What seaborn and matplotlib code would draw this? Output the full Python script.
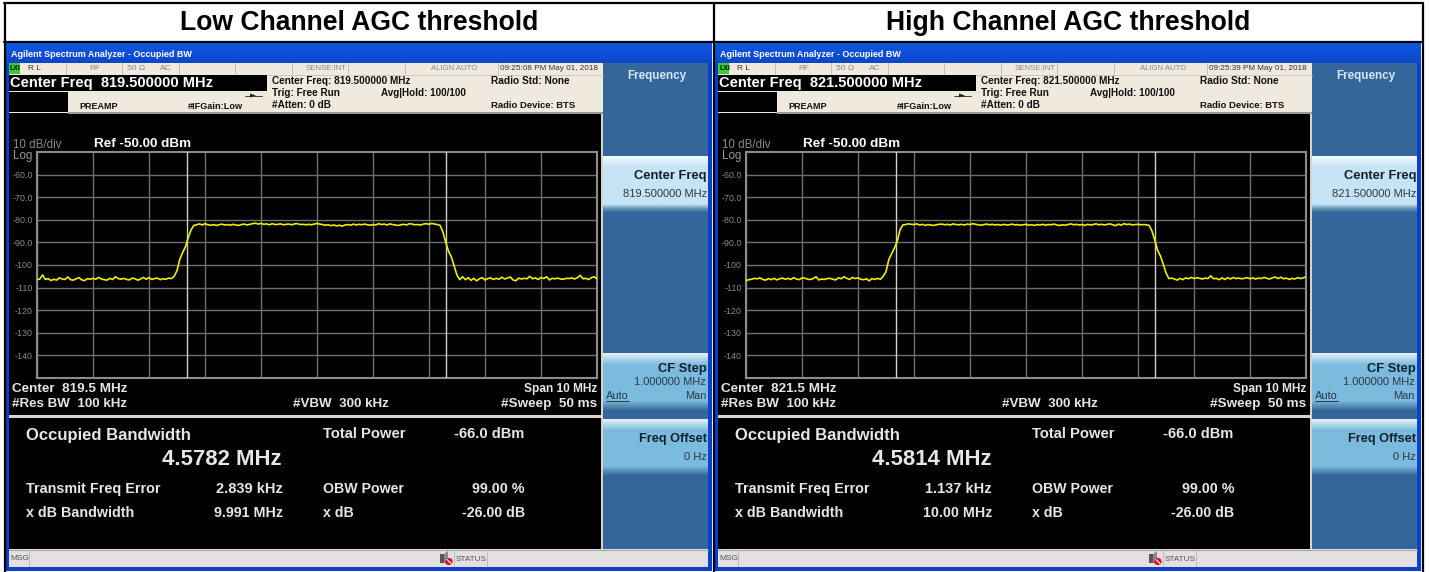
import numpy as np
import seaborn as sns
import matplotlib
matplotlib.use("Agg")
import matplotlib.pyplot as plt
from matplotlib.colors import LinearSegmentedColormap
from matplotlib.patches import Rectangle, Circle, Polygon
from matplotlib.ticker import MultipleLocator

W, H = 1431, 572

titles = ["Low Channel AGC threshold", "High Channel AGC threshold"]
center_freq = ["819.500000 MHz", "821.500000 MHz"]
center_short = ["819.5 MHz", "821.5 MHz"]
timestamps = ["09:25:08 PM May 01, 2018", "09:25:39 PM May 01, 2018"]
occupied_bw = ["4.5782 MHz", "4.5814 MHz"]
freq_error = ["2.839 kHz", "1.137 kHz"]
xdb_bw = ["9.991 MHz", "10.00 MHz"]

# marker lines, MHz from centre
low_markers = [-2.32, 2.31]
high_markers = [-2.32, 2.30]
y_ticks = [-60, -70, -80, -90, -100, -110, -120, -130, -140]
y_tick_labels = ["-60.0", "-70.0", "-80.0", "-90.0", "-100", "-110", "-120", "-130", "-140"]

# traces in dBm, one value every 0.05 MHz
low_floor_left = [
    -106.5, -106.2, -104.4, -106.4, -106.0, -106.9, -106.3, -106.7, -105.7, -106.2,
    -106.4, -105.3, -106.5, -106.7, -106.1, -105.6, -106.6, -106.9, -106.0, -106.3,
    -105.9, -106.3, -105.5, -106.2, -106.5, -106.7, -105.9, -106.4, -105.2, -106.0,
    -106.3, -105.9, -106.4, -106.6, -105.8, -106.1, -106.7, -106.2, -105.5, -106.3,
    -105.6, -106.4, -106.0, -105.8, -106.5, -106.1, -106.3, -105.8, -106.0]
low_rise = [-105.0, -102.5, -97.5, -94.5, -92.0, -88.0, -84.5, -82.5]
low_top = [
    -82.2, -81.8, -82.3, -81.7, -82.2, -82.4, -82.1, -82.5, -82.2, -81.9,
    -82.3, -82.1, -82.4, -82.0, -82.3, -82.5, -82.1, -81.9, -82.3, -82.0,
    -81.7, -81.5, -81.9, -81.6, -82.0, -81.8, -82.2, -81.7, -82.1, -82.0,
    -81.8, -82.2, -82.0, -81.9, -82.2, -81.8, -81.7, -82.1, -82.0, -82.2,
    -82.0, -82.2, -81.9, -81.6, -81.9, -82.1, -82.4, -82.2, -82.6, -82.3,
    -82.7, -82.4, -82.8, -82.3, -82.1, -82.4, -81.9, -82.3, -82.0, -82.2,
    -81.9, -82.2, -82.4, -82.1, -82.3, -81.7, -82.1, -81.9, -82.3, -81.8,
    -82.1, -82.3, -82.5, -82.2, -82.0, -82.3, -81.7, -81.9, -82.2, -82.1,
    -82.3, -81.9, -81.7, -82.0, -81.6, -81.9, -82.1]
low_fall = [-82.5, -85.5, -90.0, -94.0, -96.5, -100.5, -104.5, -106.5]
low_floor_right = [
    -105.2, -106.5, -105.6, -106.8, -105.9, -107.0, -106.1, -105.6, -106.6, -106.0,
    -105.7, -106.4, -105.9, -106.3, -105.4, -106.2, -105.8, -105.3, -106.6, -107.0,
    -105.8, -106.2, -105.9, -106.1, -105.0, -106.1, -105.7, -106.4, -105.5, -106.0,
    -105.2, -106.6, -105.9, -106.1, -105.8, -106.2, -106.3, -105.9, -106.0, -105.7,
    -106.2, -105.6, -104.6, -106.1, -105.9, -106.4, -105.6, -105.2, -106.2]
high_floor_left = [
    -106.9, -106.5, -106.3, -105.9, -106.1, -105.7, -106.4, -106.7, -106.0, -106.5,
    -105.9, -106.6, -106.1, -105.8, -106.3, -105.9, -106.4, -105.6, -106.2, -106.5,
    -105.7, -105.8, -106.3, -106.4, -106.0, -105.2, -106.6, -106.2, -106.4, -106.0,
    -105.9, -106.3, -106.6, -105.7, -106.1, -105.2, -105.9, -106.4, -105.5, -106.0,
    -105.7, -106.3, -106.5, -106.1, -107.0, -106.0, -106.4, -105.9, -106.3]
high_rise = [-105.0, -103.0, -97.6, -95.0, -92.5, -89.5, -84.5, -82.3]
high_top = [
    -82.1, -81.8, -82.0, -82.1, -81.8, -82.3, -82.0, -82.5, -82.1, -82.3,
    -82.5, -82.2, -82.0, -81.9, -82.2, -82.0, -82.3, -81.8, -82.1, -82.2,
    -82.0, -82.3, -81.9, -82.1, -81.7, -82.0, -82.2, -82.4, -82.1, -81.9,
    -82.2, -82.0, -82.3, -82.1, -82.4, -82.0, -82.3, -82.2, -81.9, -82.3,
    -82.1, -82.4, -82.2, -82.0, -82.4, -82.2, -82.5, -82.1, -82.3, -82.0,
    -82.4, -82.1, -82.2, -81.9, -82.3, -82.5, -82.2, -82.4, -82.1, -81.8,
    -82.2, -82.0, -82.3, -82.1, -82.5, -82.0, -82.3, -82.1, -81.8, -82.2,
    -82.0, -82.3, -82.0, -81.8, -82.2, -82.6, -81.9, -82.4, -81.7, -82.1,
    -81.9, -82.3, -82.1, -82.0, -82.2, -82.1, -82.2]
high_fall = [-82.5, -85.0, -89.0, -93.5, -96.0, -99.5, -103.5, -106.0]
high_floor_right = [
    -105.8, -106.2, -106.7, -105.9, -106.5, -105.7, -106.1, -105.5, -106.0, -105.6,
    -105.9, -106.2, -105.8, -106.0, -104.8, -106.1, -105.9, -106.5, -105.7, -106.4,
    -105.6, -106.2, -105.5, -106.0, -105.8, -106.1, -105.9, -105.6, -106.1, -105.7,
    -106.2, -105.8, -106.0, -105.5, -105.9, -106.2, -105.7, -105.3, -106.0, -105.4,
    -106.1, -105.8, -106.4, -105.9, -106.2, -105.6, -106.0, -105.7, -105.2]

low_trace = low_floor_left + low_rise + low_top + low_fall + low_floor_right
high_trace = high_floor_left + high_rise + high_top + high_fall + high_floor_right

sns.set_theme(style="dark")
plt.rcParams["font.family"] = ["Liberation Sans", "DejaVu Sans"]

BEIGE = "#efe9de"
PANEL = "#34659b"
GRID = "#6f6f6f"
KEY_BOLD = "#10202c"
KEY_TEXT = "#2a3a46"
LIGHT = "#e6e6e6"

fig = plt.figure(figsize=(W / 100, H / 100), dpi=100, facecolor="white")
# whole figure in pixels for the instrument screen around the plots
bg = fig.add_axes([0, 0, 1, 1], zorder=1)
bg.set_xlim(0, W)
bg.set_ylim(H, 0)
bg.axis("off")


def rect(x0, y0, x1, y1, color, z=1):
    bg.add_patch(Rectangle((x0, y0), x1 - x0, y1 - y0, fc=color, ec="none", zorder=z))


def grad(x0, y0, x1, y1, colors, z=2):
    cmap = LinearSegmentedColormap.from_list("g", colors)
    bg.imshow(np.linspace(0, 1, 128)[:, None], cmap=cmap, extent=(x0, x1, y1, y0),
              aspect="auto", zorder=z, interpolation="bilinear")


def txt(x, y, s, size=6.3, color="black", weight="normal", ha="left"):
    # va=center sits a little high against the reference
    bg.text(x, y + 0.8, s, fontsize=size, color=color, fontweight=weight, ha=ha, va="center", zorder=5)


def draw_panel(i, dx, levels, markers):
    # window frame and title bar
    rect(6 + dx, 43, 712 + dx, 571, "#0a3fd0")
    grad(6 + dx, 43, 712 + dx, 63, ["#0a58e0", "#0f4fd8", "#0a46c8"])
    txt(11 + dx, 53.5, "Agilent Spectrum Analyzer - Occupied BW", 6.5, "white", "bold")

    # settings strip
    rect(9 + dx, 63, 603 + dx, 113, BEIGE, 2)
    rect(9 + dx, 63, 20 + dx, 73.5, "#35d030", 3)
    txt(10 + dx, 68, "LXI", 5.0, "black", "bold")
    txt(28 + dx, 67.5, "R L", 6.0, "#333333")
    txt(89 + dx, 67.5, "RF", 6.0, "#888888")
    txt(127 + dx, 67.5, "50 Ω", 6.0, "#888888")
    txt(160 + dx, 67.5, "AC", 6.0, "#888888")
    txt(306 + dx, 67.5, "SENSE:INT", 5.6, "#888888")
    txt(431 + dx, 67.5, "ALIGN AUTO", 5.6, "#888888")
    txt(598 + dx, 67.5, timestamps[i], 5.9, "#333333", ha="right")
    for sx in (66, 122, 179, 235, 292, 348, 405, 498):
        bg.plot([sx + dx, sx + dx], [63, 74], color="#b8b8b8", lw=0.6, zorder=3)
    bg.plot([9 + dx, 603 + dx], [74.5, 74.5], color="#c8c4bc", lw=0.6, zorder=3)

    rect(9 + dx, 75, 267 + dx, 91, "black", 3)
    rect(9 + dx, 92, 68 + dx, 112, "black", 3)
    rect(68 + dx, 111.5, 603 + dx, 113.5, "#9a9a94", 3)
    txt(10 + dx, 82.5, "Center Freq  " + center_freq[i], 10.5, "white", "bold")
    txt(272 + dx, 80.5, "Center Freq: " + center_freq[i], 7.2, "#111111", "bold")
    txt(272 + dx, 92, "Trig: Free Run", 7.2, "#111111", "bold")
    txt(381 + dx, 92, "Avg|Hold: 100/100", 7.1, "#111111", "bold")
    txt(272 + dx, 104.5, "#Atten: 0 dB", 7.2, "#111111", "bold")
    txt(491 + dx, 80.5, "Radio Std: None", 7.3, "#111111", "bold")
    txt(491 + dx, 104.5, "Radio Device: BTS", 6.8, "#111111", "bold")
    txt(79 + dx, 106, "PREAMP", 6.5, "#111111", "bold")
    txt(188 + dx, 106, "#IFGain:Low", 6.6, "#111111", "bold")
    bg.plot([245 + dx, 262 + dx], [95.5, 95.5], color="#222222", lw=0.6, zorder=3)
    bg.add_patch(Polygon([(250 + dx, 93.5), (250 + dx, 97.5), (256 + dx, 95.5)], fc="#222222", ec="none", zorder=3))

    # screen areas
    rect(9 + dx, 113, 601 + dx, 415, "black", 2)
    rect(9 + dx, 415, 603 + dx, 418, "#d9d4c8", 2)
    rect(9 + dx, 418, 601 + dx, 549, "black", 2)
    rect(601 + dx, 113, 603 + dx, 549, "#d9d4c8", 2)
    txt(13 + dx, 144, "10 dB/div", 8.3, "#8a8a8a")
    txt(13 + dx, 155, "Log", 8.3, "#9a9a9a")
    txt(94 + dx, 143.5, "Ref -50.00 dBm", 9.7, "white", "bold")

    txt(12 + dx, 388, "Center  " + center_short[i], 9.7, LIGHT, "bold")
    txt(12 + dx, 403, "#Res BW  100 kHz", 9.6, LIGHT, "bold")
    txt(293 + dx, 403, "#VBW  300 kHz", 9.6, LIGHT, "bold")
    txt(597 + dx, 388, "Span 10 MHz", 8.6, LIGHT, "bold", "right")
    txt(597 + dx, 403, "#Sweep  50 ms", 9.7, LIGHT, "bold", "right")

    # measurement block
    txt(26 + dx, 435, "Occupied Bandwidth", 12.0, LIGHT, "bold")
    txt(282 + dx, 459, occupied_bw[i], 15.9, LIGHT, "bold", "right")
    txt(26 + dx, 488, "Transmit Freq Error", 10.4, LIGHT, "bold")
    txt(283 + dx, 488, freq_error[i], 10.5, LIGHT, "bold", "right")
    txt(26 + dx, 512, "x dB Bandwidth", 10.3, LIGHT, "bold")
    txt(283 + dx, 512, xdb_bw[i], 10.3, LIGHT, "bold", "right")
    txt(323 + dx, 433, "Total Power", 10.6, LIGHT, "bold")
    txt(524 + dx, 433, "-66.0 dBm", 10.5, LIGHT, "bold", "right")
    txt(323 + dx, 488, "OBW Power", 10.2, LIGHT, "bold")
    txt(525 + dx, 488, "99.00 %", 10.3, LIGHT, "bold", "right")
    txt(323 + dx, 512, "x dB", 10.2, LIGHT, "bold")
    txt(525 + dx, 512, "-26.00 dB", 10.2, LIGHT, "bold", "right")

    # message bar
    rect(9 + dx, 549, 708 + dx, 567, "#e4e0e0", 2)
    bg.plot([9 + dx, 708 + dx], [549.5, 549.5], color="#a8a8a8", lw=0.8, zorder=3)
    txt(10 + dx, 558, "MSG", 6.0, "#555555")
    txt(456 + dx, 558.5, "STATUS", 5.9, "#555555")
    for sx in (29, 454, 487):
        bg.plot([sx + dx, sx + dx], [550, 566], color="#b4b4b4", lw=0.6, zorder=3)
    rect(440 + dx, 554, 444 + dx, 563, "#555555", 3)
    bg.add_patch(Polygon([(444 + dx, 554), (448 + dx, 551), (448 + dx, 565), (444 + dx, 563)],
                         fc="#888888", ec="none", zorder=3))
    bg.add_patch(Circle((449 + dx, 561.5), 3.6, fc="#e01020", ec="none", zorder=4))
    bg.plot([447 + dx, 451 + dx], [559.5, 563.5], color="white", lw=0.8, zorder=5)

    # softkeys
    rect(603 + dx, 63, 708 + dx, 549, PANEL, 2)
    grad(603 + dx, 156, 708 + dx, 212, [(0, "#f4fafd"), (0.2, "#c6e4f5"), (0.86, "#c6e4f5"),
                                        (0.95, "#5d8fb2"), (1, "#3f709c")])
    for y0, y1 in ((353, 410), (419, 475)):
        grad(603 + dx, y0, 708 + dx, y1, [(0, "#e6f3fa"), (0.2, "#7bbbde"), (0.84, "#7bbbde"),
                                          (0.95, "#4f86ae"), (1, "#3d6f9d")])
    txt(657 + dx, 75.5, "Frequency", 8.4, "#d8e6f2", "bold", "center")
    txt(707 + dx, 175.5, "Center Freq", 9.3, KEY_BOLD, "bold", "right")
    txt(707 + dx, 193, center_freq[i], 8.0, KEY_TEXT, ha="right")
    txt(707 + dx, 368, "CF Step", 9.3, KEY_BOLD, "bold", "right")
    txt(706 + dx, 381, "1.000000 MHz", 8.0, KEY_TEXT, ha="right")
    txt(606 + dx, 395.5, "Auto", 7.9, KEY_TEXT)
    bg.plot([606 + dx, 629 + dx], [401, 401], color=KEY_TEXT, lw=0.7, zorder=5)
    txt(706 + dx, 395.5, "Man", 7.9, KEY_TEXT, ha="right")
    txt(707 + dx, 438, "Freq Offset", 9.2, KEY_BOLD, "bold", "right")
    txt(707 + dx, 456, "0 Hz", 8.0, KEY_TEXT, ha="right")

    # spectrum plot
    ax = fig.add_axes([(37 + dx) / W, 1 - 378 / H, 560 / W, 226 / H], zorder=2, facecolor="black")
    ax.set_xlim(-5, 5)
    ax.set_ylim(-150, -50)
    ax.xaxis.set_major_locator(MultipleLocator(1))
    ax.set_yticks(y_ticks)
    ax.set_yticklabels(y_tick_labels)
    ax.set_xticklabels([])
    ax.tick_params(axis="x", length=0)
    ax.tick_params(axis="y", length=0, pad=3, labelsize=6.4, labelcolor="#8a8a8a")
    ax.grid(True, color=GRID, lw=1.0)
    for spine in ax.spines.values():
        spine.set_color("#8c8c8c")
        spine.set_linewidth(1.5)
        spine.set_visible(True)
    for m in markers:
        ax.axvline(m, color="#d0d0d0", lw=1.0, zorder=3)
    freqs = np.linspace(-5, 5, len(levels))
    sns.lineplot(x=freqs, y=levels, ax=ax, color="#eeee00", lw=1.2, estimator=None, zorder=4)
    ax.set_xlabel("")
    ax.set_ylabel("")


# heading table
rect(0, 0, W, 43, "white", 0)
for i, cx in enumerate((359.5, 1068.5)):
    txt(cx, 22, titles[i], 19.1, "black", "bold", "center")

draw_panel(0, 0, low_trace, low_markers)
draw_panel(1, 709, high_trace, high_markers)

# table lines over everything
for seg in ([4, 3, 1423, 3], [4, 41.5, 1423, 41.5], [4.5, 3, 4.5, 572], [714, 3, 714, 572], [1423, 3, 1423, 572]):
    bg.plot([seg[0], seg[2]], [seg[1], seg[3]], color="black", lw=1.6, zorder=6)

bg.set_xlim(0, W)
bg.set_ylim(H, 0)
fig.savefig("out.png", dpi=100)
